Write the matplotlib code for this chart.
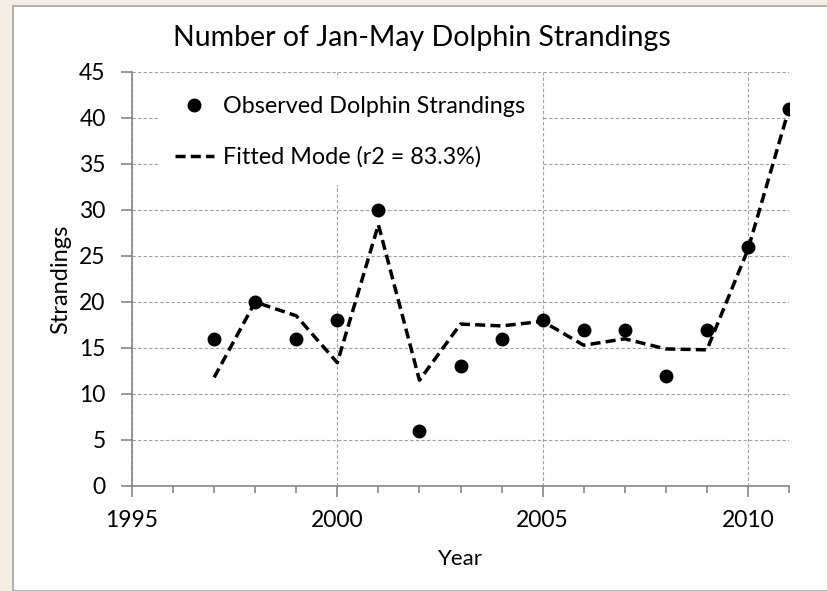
import numpy as np
import matplotlib.pyplot as plt
from matplotlib.patches import Rectangle

plt.rcParams['font.family'] = ['Lato', 'DejaVu Sans']

# данные
years = [1997, 1998, 1999, 2000, 2001, 2002, 2003, 2004, 2005, 2006, 2007, 2008, 2009, 2010, 2011]
observed = [16, 20, 16, 18, 30, 6, 13, 16, 18, 17, 17, 12, 17, 26, 41]
fitted = [11.8, 20.0, 18.5, 13.4, 28.4, 11.5, 17.6, 17.4, 17.9, 15.3, 16.0, 14.9, 14.8, 25.7, 41.0]

beige = '#F3F0E3'
grey = '#868686'

fig = plt.figure(figsize=(8.27, 5.91), dpi=100, facecolor=beige)
# белая подложка графика с серой рамкой
fig.patches.append(Rectangle((13 / 827, 0), 1, 1 - 6 / 591, transform=fig.transFigure,
                             facecolor='white', edgecolor='#A6A6A6', lw=1.2, zorder=-1))

ax = fig.add_axes([132 / 827, 1 - 486 / 591, (789 - 132) / 827, (486 - 72) / 591])
ax.set_facecolor('white')

ax.plot(years, observed, 'o', color='black', markersize=9, label='Observed Dolphin Strandings', zorder=3)
ax.plot(years, fitted, color='black', lw=2.5, linestyle=(0, (2.9, 1.5)),
        label='Fitted Mode (r2 = 83.3%)', zorder=3)

ax.set_xlim(1995, 2011)
ax.set_ylim(0, 45)
ax.set_xticks([1995, 2000, 2005, 2010])
ax.set_xticks(np.arange(1995, 2012, 1), minor=True)
ax.set_yticks(np.arange(0, 46, 5))

ax.grid(True, which='major', color='#A0A0A0', linestyle=(0, (3, 2)), lw=0.8)
for s in ['top', 'right']:
    ax.spines[s].set_visible(False)
for s in ['left', 'bottom']:
    ax.spines[s].set_color(grey)
    ax.spines[s].set_linewidth(1.2)

ax.tick_params(axis='both', which='major', direction='out', length=8, color=grey, width=1.2,
               labelsize=16.5, labelcolor='black')
ax.tick_params(axis='x', which='minor', direction='out', length=5, color=grey, width=1.2)
ax.tick_params(axis='x', which='major', pad=9)
ax.tick_params(axis='y', which='major', pad=11)
ax.tick_params(axis='y', which='minor', left=False)

ax.set_xlabel('Year', fontsize=16, labelpad=13)
ax.set_ylabel('Strandings', fontsize=17, labelpad=6)
fig.text(422 / 827, 1 - 38 / 591, 'Number of Jan-May Dolphin Strandings', fontsize=20.5,
         ha='center', va='center')

leg = ax.legend(loc='upper left', bbox_to_anchor=(0.039, 0.985), fontsize=16.8, frameon=True,
                facecolor='white', edgecolor='none', framealpha=1, fancybox=False,
                labelspacing=1.27, handlelength=1.65, handletextpad=0.4, borderpad=0.75,
                borderaxespad=0)
leg.set_zorder(2)

fig.savefig('out.png', dpi=100, facecolor=beige)
